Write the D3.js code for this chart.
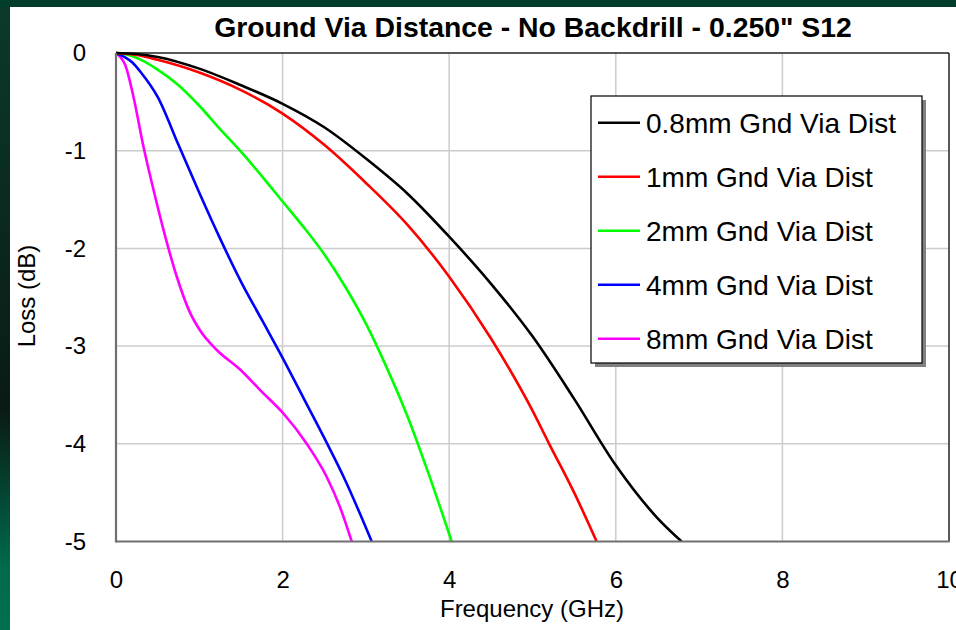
<!DOCTYPE html>
<html>
<head>
<meta charset="utf-8">
<script src="https://cdn.jsdelivr.net/npm/d3@7"></script>
<style>
  html, body { margin: 0; padding: 0; background: #003a2b; }
  svg { display: block; font-family: "Liberation Sans", Arial, sans-serif; }
</style>
</head>
<body>
<svg id="chart" width="956" height="630"></svg>
<script>
// series (frequency in GHz, loss in dB)
const seriesNames = ["0.8mm Gnd Via Dist", "1mm Gnd Via Dist", "2mm Gnd Via Dist",
                     "4mm Gnd Via Dist", "8mm Gnd Via Dist"];
const seriesColors = ["#000000", "#ff0000", "#00ff00", "#0000ff", "#ff00ff"];

const freq08 = [0, 0.25, 0.5, 1, 1.5, 2, 2.5, 3, 3.5, 4, 4.5, 5, 5.5, 6, 6.5, 6.79];
const loss08 = [0, -0.01, -0.04, -0.16, -0.33, -0.52, -0.76, -1.08, -1.44, -1.88, -2.36, -2.90, -3.54, -4.22, -4.76, -5.0];

const freq1 = [0, 0.25, 0.5, 1, 1.5, 2, 2.5, 3, 3.5, 4, 4.5, 5, 5.2, 5.5, 5.77];
const loss1 = [0, -0.02, -0.07, -0.20, -0.38, -0.62, -0.94, -1.33, -1.76, -2.29, -2.92, -3.66, -4.0, -4.5, -5.0];

const freq2 = [0, 0.1, 0.25, 0.5, 0.75, 1, 1.25, 1.5, 1.75, 2, 2.25, 2.5, 2.75, 3, 3.25, 3.5, 3.75, 4.03];
const loss2 = [0, -0.01, -0.05, -0.17, -0.33, -0.54, -0.78, -1.01, -1.26, -1.52, -1.78, -2.06, -2.39, -2.77, -3.22, -3.72, -4.3, -5.0];

const freq4 = [0, 0.1, 0.2, 0.3, 0.5, 0.75, 1, 1.25, 1.5, 1.75, 2, 2.25, 2.5, 2.75, 3.07];
const loss4 = [0, -0.04, -0.10, -0.20, -0.45, -0.94, -1.43, -1.90, -2.34, -2.73, -3.12, -3.53, -3.94, -4.37, -5.0];

const freq8 = [0, 0.05, 0.11, 0.21, 0.33, 0.45, 0.57, 0.73, 0.89, 1.01, 1.21, 1.49, 1.73, 2.01, 2.29, 2.53, 2.69, 2.83];
const loss8 = [0, -0.04, -0.12, -0.45, -0.96, -1.40, -1.81, -2.29, -2.66, -2.84, -3.04, -3.24, -3.45, -3.69, -4.0, -4.34, -4.65, -5.0];

const xTicks = [0, 2, 4, 6, 8, 10];
const yTicks = [0, -1, -2, -3, -4, -5];

const freqs = [freq08, freq1, freq2, freq4, freq8];
const losses = [loss08, loss1, loss2, loss4, loss8];
const lines = seriesNames.map((name, i) => ({
  name: name,
  color: seriesColors[i],
  values: freqs[i].map((f, j) => ({ x: f, y: losses[i][j] }))
}));

const svg = d3.select("#chart");
const plot = { left: 116, right: 949, top: 53, bottom: 541.5 };

// slide background + white panel
const defs = svg.append("defs");
const grad = defs.append("linearGradient")
    .attr("id", "bg").attr("x1", 0).attr("y1", 0).attr("x2", 0).attr("y2", 1);
grad.append("stop").attr("offset", "0").attr("stop-color", "#0b3a2c");
grad.append("stop").attr("offset", "0.65").attr("stop-color", "#0a1a15");
grad.append("stop").attr("offset", "0.9").attr("stop-color", "#006a4c");
grad.append("stop").attr("offset", "1").attr("stop-color", "#00704f");
svg.append("rect").attr("width", 956).attr("height", 630).attr("fill", "url(#bg)");
svg.append("rect").attr("x", 0).attr("y", 0).attr("width", 956).attr("height", 7).attr("fill", "#003d2d");
svg.append("rect").attr("x", 10).attr("y", 7).attr("width", 946).attr("height", 623).attr("fill", "#ffffff");

const xScale = d3.scaleLinear().domain([0, 10]).range([plot.left, plot.right]);
const yScale = d3.scaleLinear().domain([-5, 0]).range([plot.bottom, plot.top]);

// grid
const grid = svg.append("g").attr("class", "grid");
grid.selectAll(".vgrid").data(xTicks.slice(1, -1)).enter().append("line")
    .attr("x1", d => xScale(d)).attr("x2", d => xScale(d))
    .attr("y1", plot.top).attr("y2", plot.bottom)
    .attr("stroke", "#cccccc").attr("stroke-width", 1.5);
grid.selectAll(".hgrid").data(yTicks.slice(1, -1)).enter().append("line")
    .attr("x1", plot.left).attr("x2", plot.right)
    .attr("y1", d => yScale(d)).attr("y2", d => yScale(d))
    .attr("stroke", "#cccccc").attr("stroke-width", 1.5);

// frame: top / right dark, left / bottom gray axis lines
svg.append("line").attr("x1", plot.left).attr("x2", plot.right)
    .attr("y1", plot.top).attr("y2", plot.top).attr("stroke", "#222").attr("stroke-width", 1.5);
svg.append("line").attr("x1", plot.right).attr("x2", plot.right)
    .attr("y1", plot.top).attr("y2", plot.bottom).attr("stroke", "#222").attr("stroke-width", 1.5);

// curves
svg.append("clipPath").attr("id", "clip").append("rect")
    .attr("x", plot.left).attr("y", plot.top - 2)
    .attr("width", plot.right - plot.left).attr("height", plot.bottom - plot.top + 2);

const line = d3.line()
    .x(d => xScale(d.x))
    .y(d => yScale(d.y))
    .curve(d3.curveMonotoneX);

svg.append("g").attr("clip-path", "url(#clip)")
  .selectAll("path").data(lines.slice().reverse()).enter().append("path")
    .attr("fill", "none")
    .attr("stroke", d => d.color)
    .attr("stroke-width", 2.6)
    .attr("stroke-linejoin", "round")
    .attr("d", d => line(d.values));

svg.append("line").attr("x1", plot.left).attr("x2", plot.left)
    .attr("y1", plot.top).attr("y2", plot.bottom + 1).attr("stroke", "#707070").attr("stroke-width", 2.2);
svg.append("line").attr("x1", plot.left).attr("x2", plot.right + 0.75)
    .attr("y1", plot.bottom).attr("y2", plot.bottom).attr("stroke", "#707070").attr("stroke-width", 2.2);

// axes
const xAxis = d3.axisBottom(xScale).tickValues(xTicks).tickSize(0).tickPadding(29)
    .tickFormat(d => String(d));
const yAxis = d3.axisLeft(yScale).tickValues(yTicks).tickSize(0).tickPadding(30)
    .tickFormat(d => String(d));

const gX = svg.append("g").attr("transform", `translate(0,${plot.bottom})`).call(xAxis);
const gY = svg.append("g").attr("transform", `translate(${plot.left},0)`).call(yAxis);
[gX, gY].forEach(g => {
  g.select(".domain").remove();
  g.selectAll("text")
    .attr("font-family", "'Liberation Sans', Arial, sans-serif")
    .attr("font-size", 24)
    .attr("fill", "#000");
});

// titles
svg.append("text")
    .attr("x", 533).attr("y", 37)
    .attr("text-anchor", "middle")
    .attr("font-size", 28.4).attr("font-weight", "bold")
    .text("Ground Via Distance - No Backdrill - 0.250\" S12");

svg.append("text")
    .attr("x", 532).attr("y", 617)
    .attr("text-anchor", "middle")
    .attr("font-size", 24)
    .text("Frequency (GHz)");

svg.append("text")
    .attr("transform", "translate(35,296) rotate(-90)")
    .attr("text-anchor", "middle")
    .attr("font-size", 24)
    .text("Loss (dB)");

// legend
const legend = { x: 591, y: 96, w: 331, h: 267, rowTop: 122.7, rowStep: 54 };
svg.append("rect")
    .attr("x", legend.x + 4).attr("y", legend.y + 4)
    .attr("width", legend.w).attr("height", legend.h)
    .attr("fill", "#808080");
svg.append("rect")
    .attr("x", legend.x).attr("y", legend.y)
    .attr("width", legend.w).attr("height", legend.h)
    .attr("fill", "#fff").attr("stroke", "#000").attr("stroke-width", 1.2);

const items = svg.selectAll(".legend-item").data(lines).enter().append("g")
    .attr("class", "legend-item")
    .attr("transform", (d, i) => `translate(0,${legend.rowTop + i * legend.rowStep})`);
items.append("line")
    .attr("x1", 598).attr("x2", 640)
    .attr("stroke", d => d.color).attr("stroke-width", 2.6);
items.append("text")
    .attr("x", 646).attr("dy", "0.36em")
    .attr("font-size", 28)
    .text(d => d.name);
</script>
</body>
</html>
